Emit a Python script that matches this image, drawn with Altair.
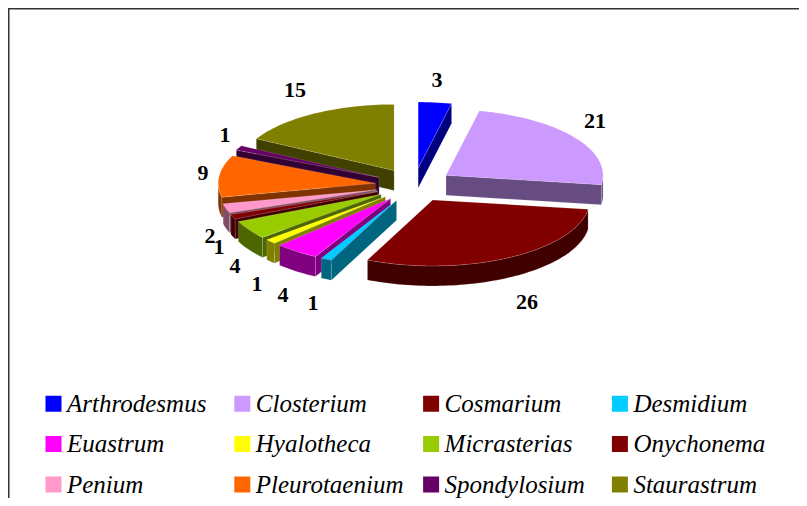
import math
import altair as alt

# ---- chart values ----
genera = ["Arthrodesmus", "Closterium", "Cosmarium", "Desmidium", "Euastrum", "Hyalotheca",
          "Micrasterias", "Onychonema", "Penium", "Pleurotaenium", "Spondylosium", "Staurastrum"]
counts = [3, 21, 26, 1, 4, 1, 4, 1, 2, 9, 1, 15]
colors = ["#0000ff", "#cc99ff", "#800000", "#00ccff", "#ff00ff", "#ffff00",
          "#99cc00", "#800000", "#ff99cc", "#ff6600", "#660066", "#808000"]
side_colors = ["#000080", "#664c80", "#400000", "#006680", "#800080", "#808000",
               "#4c6600", "#400000", "#804c66", "#803300", "#330033", "#404000"]
# back-to-front painting order of the slices
paint_order = [11, 0, 10, 9, 1, 8, 7, 6, 5, 4, 3, 2]

# ---- pie geometry (plot-area pixels) ----
CX, CY = 406, 177
RX, RY = 157, 66
EX, EY = 39, 17
DEPTH = 20
# ---- value label placement ----
label_x = [429, 587, 519, 305, 275, 249, 227, 211, 202, 195, 217, 287]
label_y = [72, 113, 294, 295, 287, 276, 258, 239, 228, 165, 127, 82]


def pt(ax, ay, deg, dy=0):
    a = math.radians(deg)
    return [ax + RX * math.sin(a), ay - RY * math.cos(a) + dy]


def feature(ring, name, fill):
    ring = ring + [ring[0]]
    return {"type": "Feature", "properties": {"name": name, "shade": fill},
            "geometry": {"type": "Polygon", "coordinates": [ring]}}


total = sum(counts)
spans, start = [], 0.0
for c in counts:
    spans.append((start, start + 360.0 * c / total))
    start += 360.0 * c / total

walls, tops = [], []
for i in paint_order:
    a0, a1 = spans[i]
    mid = math.radians((a0 + a1) / 2)
    ax, ay = CX + EX * math.sin(mid), CY - EY * math.cos(mid)
    steps = max(3, int((a1 - a0) / 1.5))
    arc = [a0 + (a1 - a0) * k / steps for k in range(steps + 1)]
    # radial cut faces that look towards the viewer
    if math.sin(math.radians(a0)) < 0:
        p = pt(ax, ay, a0)
        walls.append(feature([[ax, ay], p, [p[0], p[1] + DEPTH], [ax, ay + DEPTH]], genera[i], side_colors[i]))
    if math.sin(math.radians(a1)) > 0:
        p = pt(ax, ay, a1)
        walls.append(feature([[ax, ay], p, [p[0], p[1] + DEPTH], [ax, ay + DEPTH]], genera[i], side_colors[i]))
    # outer rim, front half only
    lo, hi = max(a0, 90), min(a1, 270)
    if hi > lo:
        rim = [lo + (hi - lo) * k / steps for k in range(steps + 1)]
        ring = [pt(ax, ay, d) for d in rim] + [pt(ax, ay, d, DEPTH) for d in reversed(rim)]
        walls.append(feature(ring, genera[i], side_colors[i]))
    tops.append(feature([[ax, ay]] + [pt(ax, ay, d) for d in arc], genera[i], colors[i]))

proj = alt.Projection(type="identity", scale=1, translate=[0, 0])

wall_layer = alt.Chart(alt.Data(values=walls)).mark_geoshape(
    stroke="#ffffff", strokeWidth=0.4, strokeOpacity=0.35
).encode(color=alt.Color("properties.shade:N", scale=None)).project(**proj.to_dict())

top_layer = alt.Chart(alt.Data(values=tops)).mark_geoshape(
    stroke="#ffffff", strokeWidth=0.4, strokeOpacity=0.35
).encode(
    color=alt.Color(
        "properties.name:N",
        scale=alt.Scale(domain=genera, range=colors),
        legend=alt.Legend(
            title=None, orient="none", legendX=33, legendY=383, direction="horizontal", columns=4,
            gridAlign="all", columnPadding=14.8, rowPadding=14.5,
            symbolType="square", symbolSize=256, symbolStrokeWidth=0, symbolOpacity=1,
            symbolOffset=0, labelOffset=1,
            labelFont="Liberation Serif", labelFontStyle="italic", labelFontSize=25, labelColor="#000000",
            labelLimit=300, padding=0,
        ),
    )
).project(**proj.to_dict())

labels = alt.Chart(alt.Data(values=[
    {"px": x, "py": y, "n": str(v)} for x, y, v in zip(label_x, label_y, counts)
])).mark_text(font="Liberation Serif", fontWeight="bold", fontSize=22, color="#000000", baseline="middle", align="center").encode(
    x=alt.X("px:Q", scale=None, axis=None),
    y=alt.Y("py:Q", scale=None, axis=None),
    text="n:N",
)

frame_left = alt.Chart(alt.Data(values=[{"a": 0}])).mark_rule(color="#333333", strokeWidth=1.5).encode(
    x=alt.value(0.75), y=alt.value(0), y2=alt.value(490))
frame_top = alt.Chart(alt.Data(values=[{"a": 0}])).mark_rule(color="#333333", strokeWidth=1.5).encode(
    x=alt.value(0), x2=alt.value(791), y=alt.value(0.75))

chart = alt.layer(wall_layer, top_layer, labels, frame_left, frame_top).resolve_scale(
    color="independent"
).properties(
    width=791, height=490, padding=0, autosize=alt.AutoSizeParams(type="none"),
).configure_view(stroke=None)

chart.save("out.html", embed_options={"renderer": "svg", "actions": False})
